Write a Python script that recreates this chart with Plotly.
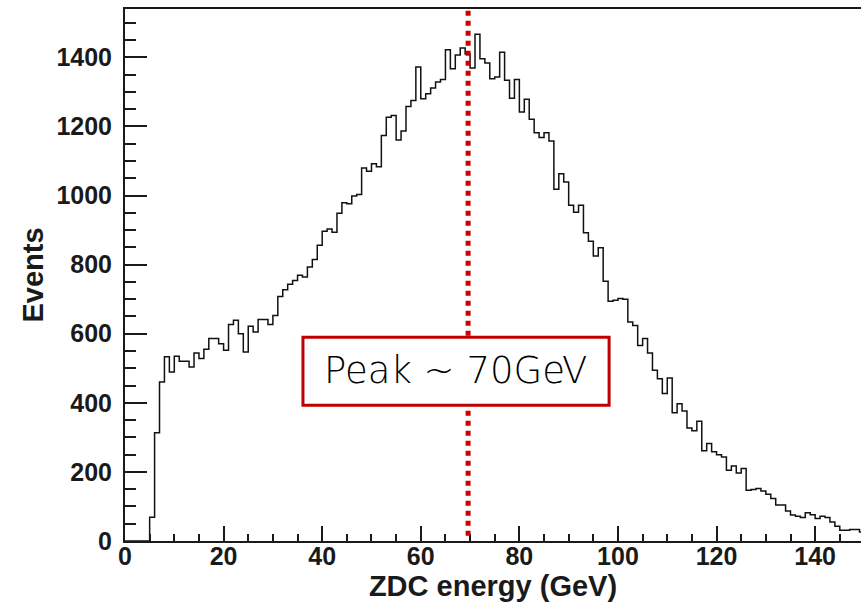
import numpy as np
import plotly.graph_objects as go

# Bin contents, 1 GeV bins starting at 0 GeV
counts = [
    0, 0, 0, 0, 0, 69, 313, 460, 533, 489,
    535, 520, 520, 504, 544, 528, 555, 586, 586, 571,
    552, 627, 639, 600, 547, 622, 605, 641, 641, 627,
    653, 708, 727, 743, 754, 769, 764, 793, 815, 856,
    897, 903, 894, 949, 979, 976, 999, 1003, 1080, 1070,
    1092, 1083, 1174, 1227, 1232, 1161, 1187, 1258, 1275, 1372,
    1280, 1295, 1311, 1329, 1336, 1422, 1367, 1407, 1427, 1410,
    1369, 1467, 1396, 1384, 1338, 1343, 1415, 1334, 1282, 1336,
    1242, 1279, 1221, 1182, 1168, 1182, 1158, 1018, 1063, 1039,
    972, 952, 972, 892, 868, 825, 849, 752, 694, 697,
    702, 700, 634, 624, 566, 586, 544, 494, 470, 427,
    472, 371, 397, 376, 327, 319, 347, 261, 282, 258,
    250, 243, 205, 217, 197, 210, 147, 149, 152, 145,
    135, 123, 104, 104, 87, 75, 72, 68, 82, 76,
    65, 72, 68, 55, 43, 31, 31, 33, 33, 26,
]
bin_width = 1.0
x_start = 0.0
peak_energy = 70
label_text = "Peak ~ 70GeV"
x_title = "ZDC energy (GeV)"
y_title = "Events"

edges = x_start + bin_width * np.arange(len(counts) + 1)
ys = list(counts) + [counts[-1]]

fig = go.Figure()
fig.add_trace(go.Scatter(
    x=edges, y=ys, mode="lines", line=dict(shape="hv", color="#111111", width=1.5),
    hoverinfo="skip", showlegend=False,
))

tickfont = dict(family="Liberation Sans Narrow, Liberation Sans", size=25, color="#1a1a1a", weight="bold")
titlefont = dict(family="Liberation Sans Narrow, Liberation Sans", size=29, color="#1a1a1a", weight="bold")

fig.update_layout(
    width=861, height=609,
    margin=dict(l=125, r=0, t=9, b=68),
    paper_bgcolor="white", plot_bgcolor="white",
    showlegend=False,
    shapes=[
        dict(type="line", xref="x", yref="paper", x0=peak_energy - 0.4, x1=peak_energy - 0.4,
             y0=0.01, y1=1, line=dict(color="#cc0000", width=5, dash="dot"), layer="above"),
        dict(type="rect", xref="x", yref="y", x0=36.1, x1=98.2, y0=393, y1=590,
             line=dict(color="#c00000", width=3), fillcolor="white", layer="above"),
    ],
    annotations=[
        dict(x=67.1, y=494, xref="x", yref="y", text=label_text, showarrow=False,
             font=dict(family="DejaVu Sans", size=37, color="black", weight=300)),
    ],
)

fig.update_xaxes(
    range=[0, 149.3], showgrid=False, zeroline=False, automargin=False,
    showline=True, linecolor="#1a1a1a", linewidth=2, mirror=True,
    ticks="inside", ticklen=15, tickwidth=2, tickcolor="#1a1a1a",
    tick0=0, dtick=20, tickfont=tickfont, ticklabelstandoff=-8,
    minor=dict(ticks="inside", dtick=5, ticklen=7, tickwidth=1.5, tickcolor="#1a1a1a"),
    title=dict(text=x_title, font=titlefont, standoff=4),
)
fig.update_yaxes(
    range=[0, 1540], showgrid=False, zeroline=False, automargin=False,
    showline=True, linecolor="#1a1a1a", linewidth=2, mirror=False,
    ticks="inside", ticklen=22, tickwidth=2, tickcolor="#1a1a1a",
    tick0=0, dtick=200, tickfont=tickfont, ticklabelstandoff=6,
    minor=dict(ticks="inside", dtick=50, ticklen=11, tickwidth=1.5, tickcolor="#1a1a1a"),
    title=dict(text=y_title, font=titlefont, standoff=4),
)

fig.write_html("out.html", config={"displayModeBar": False},
               post_script="document.body.style.margin='0';document.body.style.overflow='hidden';")
